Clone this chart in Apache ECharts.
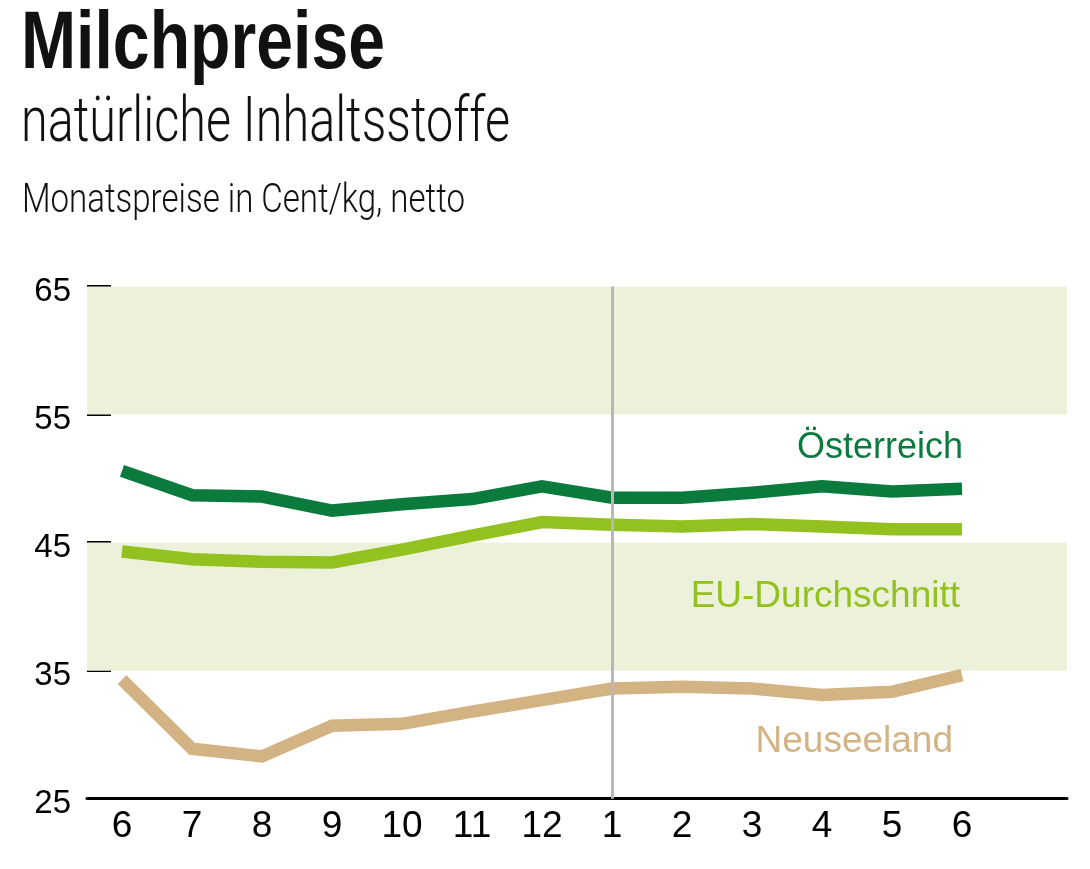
<!DOCTYPE html>
<html>
<head>
<meta charset="utf-8">
<script src="https://cdn.jsdelivr.net/npm/echarts@6/dist/echarts.min.js"></script>
<style>
  html, body { margin: 0; padding: 0; background: #fff; }
  #chart { width: 1090px; height: 869px; }
</style>
</head>
<body>
<div id="chart"></div>
<script>
// ---- data ----
const months = ['6', '7', '8', '9', '10', '11', '12', '1', '2', '3', '4', '5', '6'];
const oesterreich = [50.6, 48.7, 48.6, 47.5, 48.0, 48.4, 49.4, 48.5, 48.5, 48.9, 49.4, 49.0, 49.2];
const euDurchschnitt = [44.3, 43.7, 43.5, 43.45, 44.45, 45.55, 46.6, 46.4, 46.25, 46.45, 46.25, 46.05, 46.05];
const neuseeland = [34.3, 28.9, 28.3, 30.7, 30.85, 31.8, 32.7, 33.6, 33.75, 33.6, 33.1, 33.35, 34.65];
const yTicks = [25, 35, 45, 55, 65];
const bands = [[55, 65], [35, 45]];
const yearBreakMonth = '1';

const sans = '"Liberation Sans", Arial, sans-serif';
const light = 'Roboto, "Liberation Sans", sans-serif';

const cDark = '#0b7a3d';
const cLight = '#93c11f';
const cTan = '#d3b384';
const cBand = '#ecf1da';

// fit a heading to a target width by horizontal scaling (condensed look)
const measureCtx = document.createElement('canvas').getContext('2d');
function fitScale(text, font, targetWidth) {
  measureCtx.font = font;
  return targetWidth / measureCtx.measureText(text).width;
}
function heading(text, font, x, y, targetWidth) {
  return {
    type: 'text', x: x, y: y, z: 10, scaleX: fitScale(text, font, targetWidth),
    style: { text: text, x: 0, y: 0, font: font, fill: '#111', align: 'left', verticalAlign: 'middle' }
  };
}

const chart = echarts.init(document.getElementById('chart'), null, { renderer: 'canvas' });

const categories = months.concat(['']);
const breakIndex = months.indexOf(yearBreakMonth);

const titleFont = 'bold 81px ' + sans;
const subFont = '300 63px ' + light;
const unitFont = '300 41px ' + light;

chart.setOption({
  animation: false,
  backgroundColor: '#ffffff',
  grid: { left: 87, right: 23, top: 286.5, bottom: 70.3, containLabel: false },
  xAxis: {
    type: 'category',
    data: categories,
    boundaryGap: true,
    axisLine: { show: true, lineStyle: { color: '#000', width: 3 } },
    axisTick: { show: false },
    axisLabel: { color: '#000', fontFamily: sans, fontSize: 37, margin: 10, interval: 0 },
    splitLine: { show: false }
  },
  yAxis: {
    type: 'value',
    min: yTicks[0],
    max: yTicks[yTicks.length - 1],
    interval: yTicks[1] - yTicks[0],
    axisLine: { show: false },
    axisTick: { show: true, inside: true, length: 24, lineStyle: { color: '#000', width: 3 } },
    axisLabel: { color: '#000', fontFamily: sans, fontSize: 33, margin: 16, verticalAlign: 'top', lineHeight: 10 },
    splitLine: { show: false }
  },
  series: [
    {
      name: 'bands', type: 'line', data: [], z: 1, silent: true,
      markArea: {
        silent: true,
        itemStyle: { color: cBand },
        data: bands.map(b => [{ yAxis: b[0] }, { yAxis: b[1] }])
      }
    },
    {
      name: 'Österreich', type: 'line', data: oesterreich, z: 3,
      symbol: 'none', lineStyle: { color: cDark, width: 12.5, cap: 'butt', join: 'miter' },
      emphasis: { disabled: true }
    },
    {
      name: 'EU-Durchschnitt', type: 'line', data: euDurchschnitt, z: 3,
      symbol: 'none', lineStyle: { color: cLight, width: 12.5, cap: 'butt', join: 'miter' },
      emphasis: { disabled: true }
    },
    {
      name: 'Neuseeland', type: 'line', data: neuseeland, z: 4,
      symbol: 'none', lineStyle: { color: cTan, width: 12.5, cap: 'butt', join: 'miter' },
      emphasis: { disabled: true },
      markLine: {
        silent: true, symbol: 'none', label: { show: false },
        lineStyle: { color: '#b8b8b8', width: 3, type: 'solid' },
        emphasis: { disabled: true },
        data: [[{ xAxis: breakIndex, yAxis: yTicks[yTicks.length - 1] }, { xAxis: breakIndex, yAxis: yTicks[0] }]]
      }
    }
  ],
  graphic: [
    heading('Milchpreise', titleFont, 21, 46, 364),
    heading('natürliche Inhaltsstoffe', subFont, 21, 125, 489),
    heading('Monatspreise in Cent/kg, netto', unitFont, 22, 202, 443),
    { type: 'text', z: 10, style: { text: 'Österreich', x: 963, y: 448.5, align: 'right', verticalAlign: 'middle',
      font: '36px ' + sans, fill: cDark } },
    { type: 'text', z: 10, style: { text: 'EU-Durchschnitt', x: 960, y: 597, align: 'right', verticalAlign: 'middle',
      font: '37px ' + sans, fill: cLight } },
    { type: 'text', z: 10, style: { text: 'Neuseeland', x: 953, y: 742, align: 'right', verticalAlign: 'middle',
      font: '37px ' + sans, fill: cTan } }
  ]
});
</script>
</body>
</html>
